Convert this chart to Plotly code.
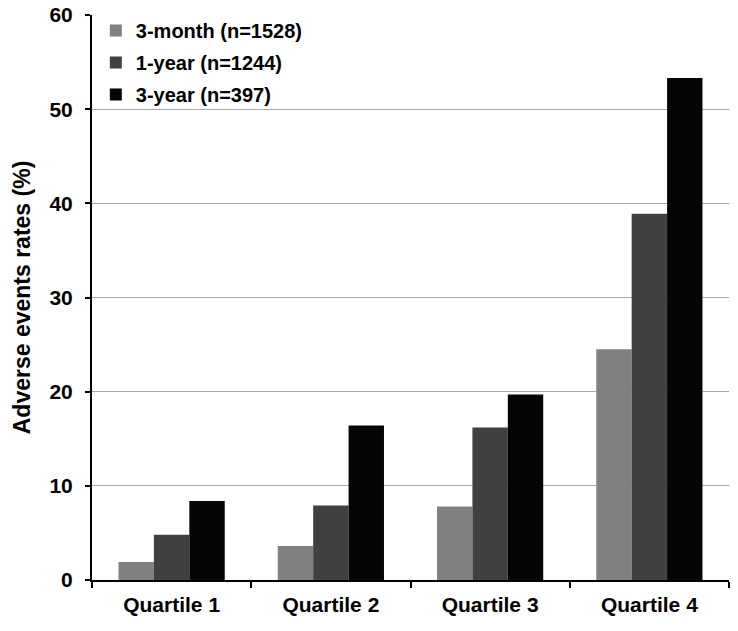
import plotly.graph_objects as go

categories = ["Quartile 1", "Quartile 2", "Quartile 3", "Quartile 4"]
series_names = ["3-month (n=1528)", "1-year (n=1244)", "3-year (n=397)"]
three_month = [1.9, 3.6, 7.8, 24.5]
one_year = [4.8, 7.9, 16.2, 38.9]
three_year = [8.4, 16.4, 19.7, 53.3]
colors = ["#808080", "#404040", "#050505"]

font_family = "Arial, Liberation Sans, sans-serif"

fig = go.Figure()
for name, vals, col in zip(series_names, [three_month, one_year, three_year], colors):
    fig.add_trace(go.Bar(x=categories, y=vals, name=name, marker_color=col,
                         marker_line_width=0, legendgroup=name))

fig.update_layout(
    width=738, height=631,
    margin=dict(l=92, r=9, t=15, b=51),
    paper_bgcolor="white", plot_bgcolor="white",
    barmode="group", bargap=0.333, bargroupgap=0,
    font=dict(family=font_family, size=20, color="black", weight="bold"),
    legend=dict(x=0.006, y=1.007, xanchor="left", yanchor="top",
                bgcolor="rgba(0,0,0,0)", tracegroupgap=3,
                font=dict(size=20, weight="bold")),
    xaxis=dict(showline=True, linecolor="black", linewidth=2,
               ticks="outside", tickson="boundaries", ticklen=6,
               tickcolor="black", tickwidth=2, showgrid=False,
               automargin=False, ticklabelstandoff=5,
               tickfont=dict(size=21, weight="bold")),
    yaxis=dict(range=[0, 60], dtick=10, showline=True, linecolor="black",
               linewidth=2, ticks="outside", ticklen=5, tickcolor="black",
               tickwidth=2, showgrid=True, gridcolor="#a8a8a8", gridwidth=1,
               zeroline=False, ticklabelstandoff=8, automargin=False,
               tickfont=dict(size=21, weight="bold"),
               title=dict(text="Adverse events rates (%)", standoff=12,
                          font=dict(size=23, weight="bold"))),
)

fig.write_html("out.html", config={"displayModeBar": False},
               post_script="document.body.style.margin='0';")
